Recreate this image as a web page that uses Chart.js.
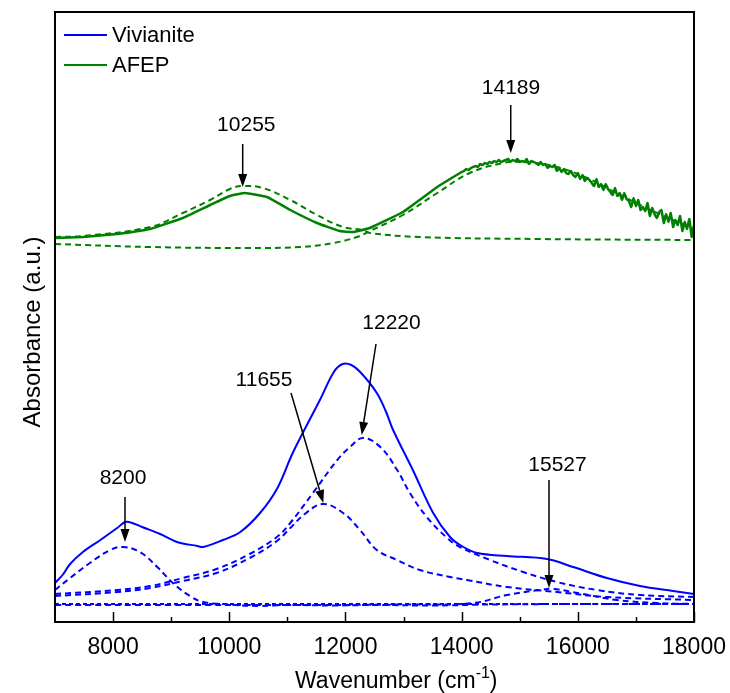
<!DOCTYPE html>
<html lang="en">
<head>
  <meta charset="UTF-8">
  <title>Vivianite / AFEP absorbance</title>
  <script src="https://cdn.jsdelivr.net/npm/chart.js"></script>
  <style>
    body {
      margin: 0;
      background: #fff;
    }
    canvas {
      display: block;
    }
  </style>
</head>
<body>
  <canvas id="specChart" width="730" height="693"></canvas>

  <script>
    // wavenumber (cm-1), absorbance (a.u.)
    const majorTicks = [8000, 10000, 12000, 14000, 16000, 18000];
    const minorTicks = [9000, 11000, 13000, 15000, 17000];

    const vivianite = [
      [7000, 0.39], [7130, 0.47], [7260, 0.58], [7480, 0.70], [7780, 0.82], [8070, 0.94],
      [8210, 1.00], [8330, 0.99], [8500, 0.95], [8810, 0.88], [9100, 0.80], [9450, 0.76],
      [9550, 0.75], [9890, 0.82], [10190, 0.90], [10530, 1.09], [10820, 1.33], [11100, 1.70],
      [11560, 2.22], [11800, 2.50], [11950, 2.58], [12100, 2.57], [12270, 2.49], [12540, 2.29],
      [12700, 2.10], [12820, 1.92], [13160, 1.52], [13510, 1.09], [13800, 0.85], [14000, 0.76],
      [14270, 0.69], [14780, 0.66], [15470, 0.63], [15920, 0.55], [16500, 0.44], [17070, 0.36],
      [17640, 0.31], [18000, 0.28]
    ];
    const viv8200 = [
      [7000, 0.32], [7260, 0.44], [7600, 0.59], [7950, 0.72], [8170, 0.75], [8460, 0.70],
      [8760, 0.55], [9030, 0.39], [9320, 0.26], [9550, 0.20], [9890, 0.18], [10500, 0.16],
      [11000, 0.17], [11800, 0.165], [12500, 0.17], [13500, 0.165], [14500, 0.175],
      [16000, 0.18], [18000, 0.18]
    ];
    const viv11655 = [
      [7000, 0.26], [8070, 0.30], [8640, 0.34], [9200, 0.41], [9780, 0.49], [10350, 0.64],
      [10820, 0.81], [11050, 0.94], [11300, 1.08], [11610, 1.18], [11960, 1.09], [12250, 0.92],
      [12540, 0.72], [12890, 0.62], [13280, 0.52], [13800, 0.45], [14090, 0.42], [14780, 0.35],
      [15640, 0.30], [16500, 0.25], [18000, 0.22]
    ];
    const viv12220 = [
      [7000, 0.28], [8070, 0.32], [8640, 0.36], [9200, 0.44], [9780, 0.53], [10350, 0.68],
      [10820, 0.85], [11050, 0.99], [11440, 1.29], [11860, 1.62], [12080, 1.75], [12300, 1.84],
      [12600, 1.75], [12890, 1.52], [13110, 1.29], [13400, 1.05], [13750, 0.84], [13970, 0.75],
      [14490, 0.62], [15060, 0.50], [15640, 0.40], [16330, 0.32], [17070, 0.27], [18000, 0.25]
    ];
    const viv15527 = [
      [7000, 0.17], [9000, 0.17], [11000, 0.17], [13000, 0.175], [14200, 0.19], [14780, 0.27],
      [15350, 0.32], [15570, 0.33], [16090, 0.28], [16670, 0.22], [17360, 0.19], [18000, 0.18]
    ];
    const vivBaseline = [[7000, 0.18], [18000, 0.18]];

    const afep = [
      [7000, 3.84], [7480, 3.85], [8070, 3.88], [8640, 3.93], [9200, 4.04], [9670, 4.17],
      [10010, 4.26], [10270, 4.29], [10650, 4.25], [11050, 4.12], [11510, 3.99], [11900, 3.91],
      [12130, 3.90], [12420, 3.94], [12990, 4.10], [13580, 4.35], [13800, 4.43],
      [14000, 4.50], [14040, 4.51], [14080, 4.53], [14120, 4.52], [14160, 4.54], [14200, 4.55],
      [14240, 4.56], [14280, 4.55], [14320, 4.58], [14360, 4.57], [14400, 4.59], [14440, 4.58],
      [14480, 4.60], [14520, 4.59], [14560, 4.61], [14600, 4.60], [14640, 4.62], [14680, 4.60],
      [14720, 4.61], [14760, 4.62], [14800, 4.63], [14840, 4.60], [14880, 4.62], [14920, 4.61],
      [14960, 4.63], [15000, 4.60], [15040, 4.61], [15080, 4.60], [15120, 4.63], [15160, 4.58],
      [15200, 4.61], [15240, 4.60], [15280, 4.59], [15320, 4.57], [15360, 4.60], [15400, 4.57],
      [15440, 4.58], [15480, 4.54], [15520, 4.56], [15560, 4.55], [15600, 4.57], [15640, 4.51],
      [15680, 4.54], [15720, 4.50], [15760, 4.53], [15800, 4.49], [15840, 4.48], [15880, 4.51],
      [15920, 4.47], [15960, 4.45], [16000, 4.49], [16040, 4.43], [16080, 4.47], [16120, 4.41],
      [16160, 4.44], [16200, 4.42], [16240, 4.39], [16280, 4.36], [16320, 4.43], [16360, 4.35],
      [16400, 4.38], [16440, 4.32], [16480, 4.38], [16520, 4.33], [16560, 4.30], [16600, 4.27],
      [16640, 4.34], [16680, 4.26], [16720, 4.29], [16760, 4.22], [16800, 4.29], [16840, 4.23],
      [16880, 4.21], [16920, 4.15], [16960, 4.24], [17000, 4.16], [17040, 4.22], [17080, 4.12],
      [17120, 4.15], [17160, 4.11], [17200, 4.19], [17240, 4.06], [17280, 4.14], [17320, 4.08],
      [17360, 4.04], [17400, 4.10], [17440, 4.12], [17480, 3.99], [17520, 4.08], [17560, 4.00],
      [17600, 4.09], [17640, 3.95], [17680, 4.02], [17720, 3.97], [17760, 4.06], [17800, 3.91],
      [17840, 4.00], [17880, 3.93], [17920, 4.03], [17960, 3.85], [18000, 3.97]
    ];
    const afep10255 = [
      [7000, 3.85], [7480, 3.86], [8640, 3.95], [9200, 4.09], [9670, 4.22], [10010, 4.33],
      [10240, 4.36], [10580, 4.34], [11050, 4.22], [11510, 4.07], [11960, 3.95], [12300, 3.92],
      [12420, 3.89], [13280, 3.85], [15300, 3.83], [18000, 3.82]
    ];
    const afep14189 = [
      [7000, 3.78], [8640, 3.75], [10350, 3.74], [11220, 3.75], [11790, 3.79], [12200, 3.85],
      [12420, 3.91], [12990, 4.07], [13580, 4.29], [14140, 4.49], [14710, 4.59], [15000, 4.60],
      [15570, 4.56], [16160, 4.44], [16730, 4.27], [17290, 4.11], [17880, 3.96], [18000, 3.93]
    ];

    // peak labels: text position and arrow (tail -> head), in data units
    const peakNotes = [
      { text: '10255', at: [10293, 4.97], from: [10231, 4.78], to: [10231, 4.35] },
      { text: '14189', at: [14850, 5.34], from: [14845, 5.17], to: [14845, 4.69] },
      { text: '8200',  at: [8171, 1.44],  from: [8205, 1.25],  to: [8205, 0.80] },
      { text: '11655', at: [10598, 2.42], from: [11063, 2.29], to: [11619, 1.19] },
      { text: '12220', at: [12793, 2.99], from: [12526, 2.78], to: [12280, 1.87] },
      { text: '15527', at: [15650, 1.57], from: [15504, 1.42], to: [15504, 0.34] }
    ];

    const BLUE = '#0000ff';
    const GREEN = '#008000';
    const FONT = 'Arial, "Liberation Sans", sans-serif';

    function pts(arr) {
      return arr.map(([x, y]) => ({ x: x, y: y }));
    }

    function line(label, arr, color, dash, width, legend, tension) {
      return {
        label: label,
        data: pts(arr),
        borderColor: color,
        borderWidth: width || 2,
        borderDash: dash || [],
        pointRadius: 0,
        fill: false,
        tension: tension === undefined ? 0.4 : tension,
        inLegend: !!legend
      };
    }

    const framePlugin = {
      id: 'frame',
      afterDatasetsDraw(chart) {
        const ctx = chart.ctx;
        const a = chart.chartArea;
        const xs = chart.scales.x;
        const ys = chart.scales.y;
        ctx.save();

        // box
        ctx.strokeStyle = '#000';
        ctx.lineWidth = 2;
        ctx.setLineDash([]);
        ctx.strokeRect(a.left, a.top, a.right - a.left, a.bottom - a.top);

        // inward ticks
        ctx.lineWidth = 1.5;
        majorTicks.forEach(v => {
          const px = Math.round(xs.getPixelForValue(v)) + 0.5;
          ctx.beginPath(); ctx.moveTo(px, a.bottom); ctx.lineTo(px, a.bottom - 10); ctx.stroke();
        });
        minorTicks.forEach(v => {
          const px = Math.round(xs.getPixelForValue(v)) + 0.5;
          ctx.beginPath(); ctx.moveTo(px, a.bottom); ctx.lineTo(px, a.bottom - 5); ctx.stroke();
        });

        // peak arrows and labels
        ctx.fillStyle = '#000';
        ctx.font = '21px ' + FONT;
        ctx.textAlign = 'center';
        ctx.textBaseline = 'middle';
        peakNotes.forEach(n => {
          ctx.fillText(n.text, xs.getPixelForValue(n.at[0]), ys.getPixelForValue(n.at[1]));
          const x1 = xs.getPixelForValue(n.from[0]), y1 = ys.getPixelForValue(n.from[1]);
          const x2 = xs.getPixelForValue(n.to[0]), y2 = ys.getPixelForValue(n.to[1]);
          const ang = Math.atan2(y2 - y1, x2 - x1);
          const hl = 13, hw = 4.5;
          const bx = x2 - hl * Math.cos(ang), by = y2 - hl * Math.sin(ang);
          ctx.lineWidth = 1.5;
          ctx.beginPath(); ctx.moveTo(x1, y1); ctx.lineTo(bx, by); ctx.stroke();
          ctx.beginPath();
          ctx.moveTo(x2, y2);
          ctx.lineTo(bx + hw * Math.sin(ang), by - hw * Math.cos(ang));
          ctx.lineTo(bx - hw * Math.sin(ang), by + hw * Math.cos(ang));
          ctx.closePath();
          ctx.fill();
        });

        // legend in the upper left corner
        ctx.font = '22px ' + FONT;
        ctx.textAlign = 'left';
        chart.data.datasets.filter(d => d.inLegend).forEach((d, i) => {
          const ly = a.top + 23 + i * 30;
          ctx.strokeStyle = d.borderColor;
          ctx.lineWidth = 2;
          ctx.beginPath(); ctx.moveTo(a.left + 9, ly); ctx.lineTo(a.left + 52, ly); ctx.stroke();
          ctx.fillStyle = '#000';
          ctx.fillText(d.label, a.left + 57, ly + 1);
        });

        // axis titles
        ctx.fillStyle = '#000';
        ctx.textBaseline = 'alphabetic';
        ctx.font = '23px ' + FONT;
        const t1 = 'Wavenumber (cm';
        let tx = a.left + 240;
        const ty = a.bottom + 66;
        ctx.fillText(t1, tx, ty);
        tx += ctx.measureText(t1).width;
        ctx.font = '16px ' + FONT;
        ctx.fillText('-1', tx, ty - 10);
        tx += ctx.measureText('-1').width;
        ctx.font = '23px ' + FONT;
        ctx.fillText(')', tx, ty);

        ctx.translate(a.left - 15, a.top + 320);
        ctx.rotate(-Math.PI / 2);
        ctx.textAlign = 'center';
        ctx.font = '24px ' + FONT;
        ctx.fillText('Absorbance (a.u.)', 0, 0);

        ctx.restore();
      }
    };

    new Chart(document.getElementById('specChart').getContext('2d'), {
      type: 'line',
      data: {
        datasets: [
          line('Vivianite', vivianite, BLUE, [], 2, true, 0.35),
          line('AFEP', afep, GREEN, [], 2.5, true, 0.1),
          line('8200', viv8200, BLUE, [6, 4]),
          line('11655', viv11655, BLUE, [6, 4]),
          line('12220', viv12220, BLUE, [6, 4]),
          line('15527', viv15527, BLUE, [6, 4]),
          line('baseline', vivBaseline, BLUE, [4, 3], 2, false, 0),
          line('10255', afep10255, GREEN, [6, 4]),
          line('14189', afep14189, GREEN, [6, 4])
        ]
      },
      options: {
        responsive: false,
        animation: false,
        devicePixelRatio: 1,
        layout: { padding: { left: 55, right: 36, top: 12, bottom: 0 } },
        plugins: {
          legend: { display: false },
          tooltip: { enabled: false }
        },
        scales: {
          x: {
            type: 'linear',
            min: 7000,
            max: 18000,
            grid: { display: false, drawTicks: false },
            border: { display: false },
            ticks: {
              color: '#000',
              font: { family: FONT, size: 23 },
              padding: 12,
              maxRotation: 0,
              autoSkip: false,
              callback: v => String(v)
            },
            afterBuildTicks: s => { s.ticks = majorTicks.map(v => ({ value: v })); },
            afterFit: s => {
              s.height = 71;
              s.paddingLeft = 0;
              s.paddingRight = 0;
            }
          },
          y: {
            display: false,
            min: 0,
            max: 6.1
          }
        }
      },
      plugins: [framePlugin]
    });
  </script>
</body>
</html>
